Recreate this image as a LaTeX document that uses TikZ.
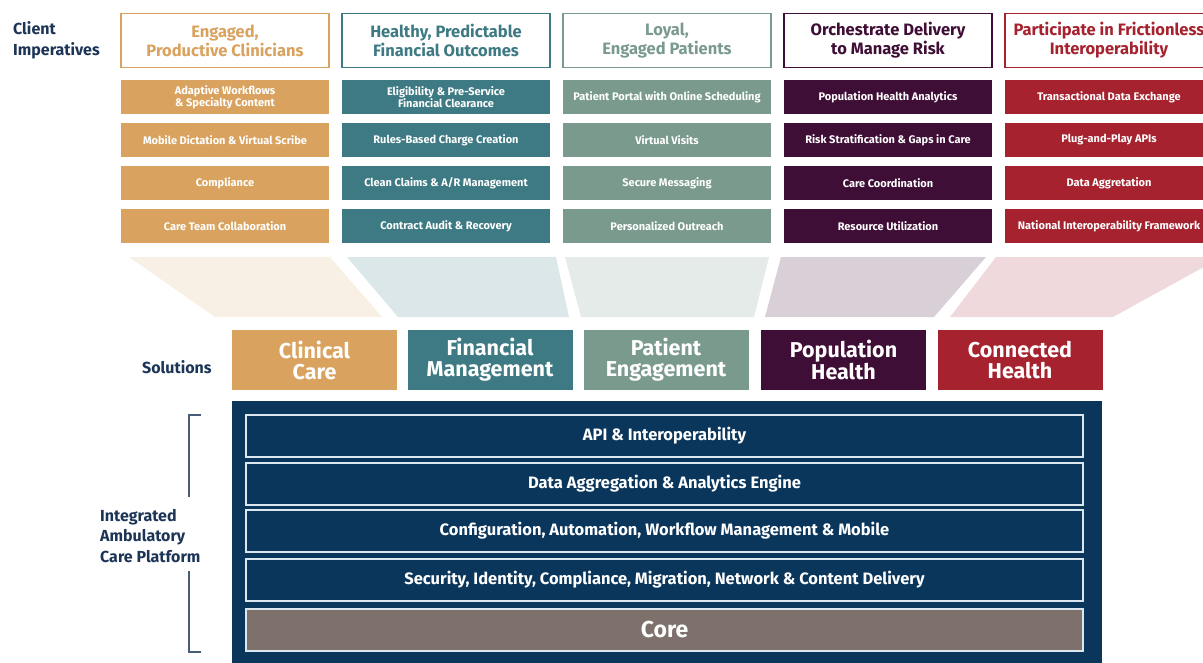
\documentclass[tikz,border=0pt]{standalone}
\usepackage{fontspec}
\setmainfont{Fira Sans}
\usetikzlibrary{positioning}
\definecolor{gold}{HTML}{D9A35F}
\definecolor{teal}{HTML}{3E7A83}
\definecolor{sage}{HTML}{7A9A8D}
\definecolor{plum}{HTML}{3F0E36}
\definecolor{crimson}{HTML}{A6222F}
\definecolor{navy}{HTML}{0B365C}
\definecolor{taupe}{HTML}{7E716B}
\definecolor{ink}{HTML}{1C3557}
\definecolor{layeredge}{HTML}{DCE6EE}
\tikzset{
	imperative/.style={
		draw=#1, line width=1.5pt, fill=white, text=#1, inner sep=0pt,
		minimum width=208pt, minimum height=54pt, align=center,
		font=\fontsize{16.5}{19}\selectfont\bfseries
	},
	task/.style={
		fill=#1, text=white, inner sep=0pt, minimum width=208pt, minimum height=34pt,
		align=center, font=\fontsize{11}{12}\selectfont\bfseries
	},
	solution/.style={
		fill=#1, text=white, inner sep=0pt, minimum width=165pt, minimum height=60pt,
		align=center, font=\fontsize{21.5}{21}\selectfont\bfseries
	},
	layer/.style={
		fill=navy, draw=layeredge, line width=2pt, text=white, inner sep=0pt,
		minimum width=837pt, minimum height=42pt, font=\fontsize{16.5}{18}\selectfont\bfseries
	},
	sidelabel/.style={
		text=ink, align=left, inner sep=0pt, font=\fontsize{16}{20.5}\selectfont\bfseries
	},
	funnel/.style={fill=#1}
}

\begin{document}
\begin{tikzpicture}[x=1pt, y=-1pt]
    \useasboundingbox (0,0) rectangle (1203,662);

    % client imperatives
    \node[sidelabel, anchor=west] (clientlbl) at (13,40.5) {Client\\Imperatives};
    \foreach \n/\x/\c/\t in {1/225/gold/{Engaged,\\Productive Clinicians},
        2/446/teal/{Healthy, Predictable\\Financial Outcomes},
        3/667/sage/{Loyal,\\Engaged Patients},
        4/888/plum/{Orchestrate Delivery\\to Manage Risk},
        5/1109/crimson/{Participate in Frictionless\\Interoperability}}
        \node[imperative=\c] (imp\n) at (\x,40.5) {\t};

    \foreach \t [count=\r] in {Adaptive Workflows\\\& Specialty Content, Mobile Dictation \& Virtual Scribe,
        Compliance, Care Team Collaboration}
        \node[task=gold] (t1-\r) at (225,{54+43*\r}) {\t};
    \foreach \t [count=\r] in {Eligibility \& Pre-Service\\Financial Clearance, Rules-Based Charge Creation,
        Clean Claims \& A/R Management, Contract Audit \& Recovery}
        \node[task=teal] (t2-\r) at (446,{54+43*\r}) {\t};
    \foreach \t [count=\r] in {Patient Portal with Online Scheduling, Virtual Visits,
        Secure Messaging, Personalized Outreach}
        \node[task=sage] (t3-\r) at (667,{54+43*\r}) {\t};
    \foreach \t [count=\r] in {Population Health Analytics, Risk Stratification \& Gaps in Care,
        Care Coordination, Resource Utilization}
        \node[task=plum] (t4-\r) at (888,{54+43*\r}) {\t};
    \foreach \t [count=\r] in {Transactional Data Exchange, Plug-and-Play APIs,
        Data Aggretation, National Interoperability Framework}
        \node[task=crimson] (t5-\r) at (1109,{54+43*\r}) {\t};

    % funnel
    \fill[funnel=gold!16] (129,257) -- (330,257) -- (382,317) -- (215,317) -- cycle;
    \fill[funnel=teal!18] (347,257) -- (556,257) -- (569,317) -- (398,317) -- cycle;
    \fill[funnel=sage!20] (565,257) -- (769,257) -- (754,317) -- (581,317) -- cycle;
    \fill[funnel=plum!20] (781,257) -- (986,257) -- (934,317) -- (765,317) -- cycle;
    \fill[funnel=crimson!17] (996,257) -- (1222,257) -- (1113,317) -- (950,317) -- cycle;

    % solutions
    \foreach \n/\x/\c/\t in {1/314.5/gold/{Clinical\\Care}, 2/490/teal/{Financial\\Management},
        3/666/sage/{Patient\\Engagement}, 4/843.5/plum/{Population\\Health},
        5/1020/crimson/{Connected\\Health}}
        \node[solution=\c] (sol\n) at (\x,360) {\t};
    \node[sidelabel, left=20pt of sol1, yshift=-7pt] (sollbl) {Solutions};

    % platform
    \node[fill=navy, inner sep=0pt, minimum width=870pt, minimum height=280pt, anchor=north west]
        (platform) at (232,401) {};
    \foreach \n/\y/\t in {api/436/{API \& Interoperability},
        data/483.5/{Data Aggregation \& Analytics Engine},
        config/531/{Configuration, Automation, Workflow Management \& Mobile},
        security/580/{Security, Identity, Compliance, Migration, Network \& Content Delivery}}
        \node[layer] (\n) at (664.5,\y) {\t};
    \node[layer, fill=taupe, font=\fontsize{23}{25}\selectfont\bfseries] (core) at (664.5,630) {Core};

    \node[sidelabel, anchor=west] (platlbl) at (100,536) {Integrated\\Ambulatory\\Care Platform};
    \draw[ink!80, line width=1.8pt] (201,415) -| (189,497);
    \draw[ink!80, line width=1.8pt] (189,571) |- (201,652);
\end{tikzpicture}
\end{document}
